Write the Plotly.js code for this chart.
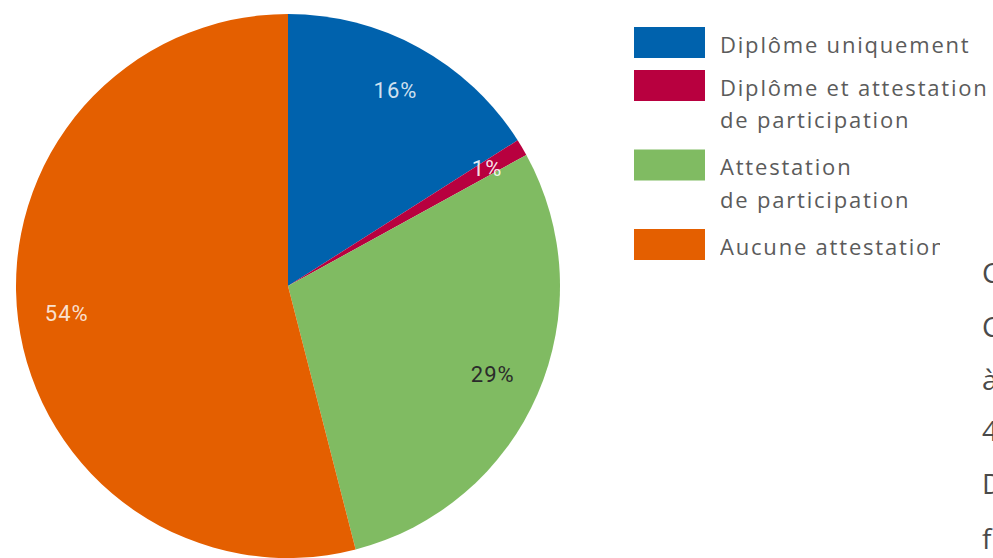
<!DOCTYPE html>
<html><head><meta charset="utf-8">
<script src="https://cdn.plot.ly/plotly-3.0.1.min.js"></script>
<style>
html,body{margin:0;padding:0;background:#fff;overflow:hidden}
.annotation-text{letter-spacing:1.8px}
.slicetext{letter-spacing:1px}
</style>
</head><body><div id="chart" style="width:993px;height:558px"></div>
<script>
// ---- data ----
const categories = ['Diplôme uniquement', 'Diplôme et attestation<br>de participation', 'Attestation<br>de participation', 'Aucune attestation'];
const values = [16, 1, 29, 54];
const colors = ['#0062ad', '#b8003f', '#80bb62', '#e45f00'];
const labelColors = ['rgba(255,255,255,0.82)', 'rgba(255,255,255,0.9)', '#2b2b2b', 'rgba(255,255,255,0.82)'];
const sideText = ['C', 'C', 'à', '4', 'D', 'f'];

// ---- layout constants (pixels) ----
const W = 993, H = 558;
const cx = 288, cy = 286, R = 272;
function dom(r) { return { x: [(cx - r) / W, (cx + r) / W], y: [1 - (cy + r) / H, 1 - (cy - r) / H] }; }
const px = x => x / W, py = y => 1 - y / H;

const base = {
  type: 'pie', values: values, labels: categories, sort: false, direction: 'clockwise',
  hoverinfo: 'none', showlegend: false
};
const pieFont = 'Roboto, sans-serif';
const traces = [
  Object.assign({}, base, {
    domain: dom(R), textinfo: 'none',
    marker: { colors: colors, line: { width: 0 } }
  }),
  Object.assign({}, base, {
    domain: dom(R), hole: 0.64, textinfo: 'percent',
    textposition: values.map((v, i) => i === 1 ? 'none' : 'inside'),
    insidetextorientation: 'horizontal',
    insidetextfont: { family: pieFont, size: 22, color: labelColors },
    marker: { colors: values.map(() => 'rgba(0,0,0,0)'), line: { width: 0 } }
  }),
  Object.assign({}, base, {
    domain: dom(R * 0.877), textinfo: 'percent',
    textposition: values.map((v, i) => i === 1 ? 'inside' : 'none'),
    insidetextorientation: 'horizontal',
    insidetextfont: { family: pieFont, size: 22, color: labelColors },
    marker: { colors: values.map(() => 'rgba(0,0,0,0)'), line: { width: 0 } }
  })
];

// ---- custom legend ----
const shapes = [], annotations = [];
const legendFont = { family: 'Open Sans, sans-serif', size: 22, color: '#5b5b5b' };
let itemTop = 27;
categories.forEach((c, i) => {
  const lines = c.split('<br>');
  shapes.push({ type: 'rect', xref: 'paper', yref: 'paper', x0: px(634), x1: px(705), y0: py(itemTop), y1: py(itemTop + 31),
    fillcolor: colors[i], line: { width: 0 } });
  lines.forEach((t, j) => {
    const a = { xref: 'paper', yref: 'paper', x: px(718), y: py(itemTop + 17 + 32 * j), xanchor: 'left', yanchor: 'middle',
      text: t, showarrow: false, font: legendFont, align: 'left' };
    if (i === categories.length - 1) a.width = 220;
    annotations.push(a);
  });
  itemTop += 43 + 36.5 * (lines.length - 1);
});
const sideY = [272, 326, 379, 430, 483, 538];
sideText.forEach((t, i) => {
  annotations.push({ xref: 'paper', yref: 'paper', x: px(980), y: py(sideY[i]), xanchor: 'left', yanchor: 'middle',
    text: t, showarrow: false, font: { family: 'Open Sans, sans-serif', size: 28, color: '#4a4a4a' } });
});

const layout = {
  width: W, height: H, margin: { l: 0, r: 0, t: 0, b: 0 },
  paper_bgcolor: '#ffffff', plot_bgcolor: '#ffffff', showlegend: false,
  uniformtext: { mode: 'show', minsize: 22 },
  shapes: shapes, annotations: annotations
};
Plotly.newPlot('chart', traces, layout, { displayModeBar: false, staticPlot: true });
</script></body></html>
